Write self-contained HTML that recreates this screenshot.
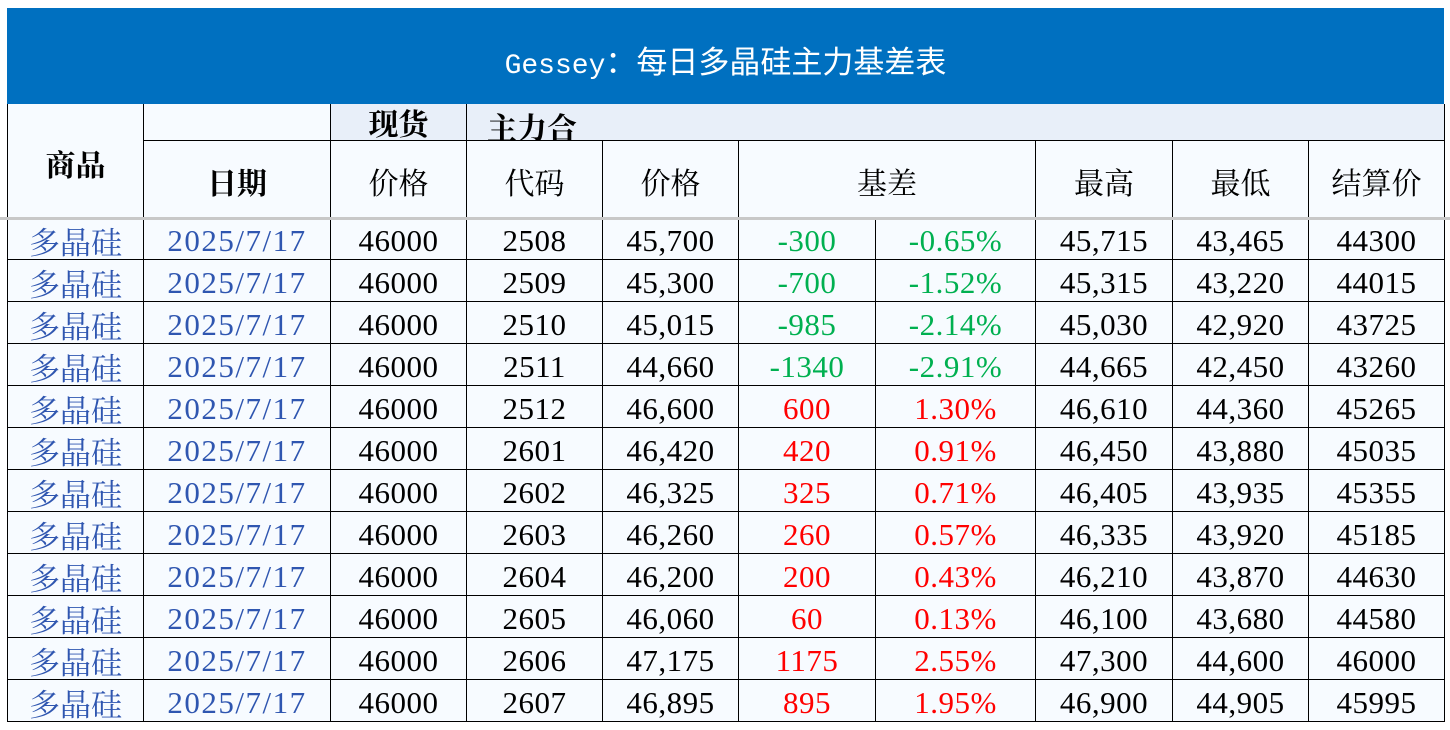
<!DOCTYPE html>
<html><head><meta charset="utf-8">
<style>
html,body{margin:0;padding:0;background:#fff;width:1450px;height:730px;overflow:hidden;position:relative;}
.title{position:absolute;left:7px;top:8px;width:1437px;height:96px;background:#0070C0;color:#fff;
font:28px "Liberation Mono","Noto Sans CJK SC",monospace;line-height:104px;text-align:center;}
.title span{font-size:31px;font-family:"Noto Sans CJK SC",sans-serif;}
.c{position:absolute;box-sizing:border-box;border-right:1px solid #000;border-bottom:1px solid #000;background:#F7FBFF;
text-align:center;overflow:hidden;white-space:nowrap;color:#000;font-family:"Liberation Serif","Noto Serif CJK SC",serif;font-size:31px;}
.hd{font-family:"Noto Serif CJK SC",serif;font-size:30px;}
.b{font-weight:bold;}
.lb{background:#E8EFF9;}
.row{position:absolute;left:0;height:42px;}
.row .c{top:0;height:42px;line-height:45px;letter-spacing:0.5px;}
.bl{color:#2F56B0;}
.dt{letter-spacing:1.5px !important;}
.cj{font-family:"Noto Serif CJK SC",serif;letter-spacing:0 !important;}
.g{color:#00B050;}
.r{color:#FF0000;}
.gray{position:absolute;left:0;top:217px;width:1450px;height:3px;background:#C8C8C8;z-index:5;}
.x0{left:7px;width:137px;border-left:1px solid #000;}
.x1{left:144px;width:187px;}
.x2{left:331px;width:136px;}
.x3{left:467px;width:136px;}
.x4{left:603px;width:136px;}
.x5{left:739px;width:137px;}
.x6{left:876px;width:160px;}
.x7{left:1036px;width:137px;}
.x8{left:1173px;width:136px;}
.x9{left:1309px;width:136px;}
</style></head><body>
<div class="title">Gessey<span>：每日多晶硅主力基差表</span></div>

<div class="c hd b x0" style="top:104px;height:113px;line-height:118px;border-bottom:none">商品</div>
<div class="c x1" style="top:104px;height:37px"></div>
<div class="c hd b lb x2" style="top:104px;height:37px;line-height:36px">现货</div>
<div class="c hd b lb" style="left:467px;width:978px;top:104px;height:37px;line-height:45px;text-align:left;padding-left:20px">主力合</div>
<div class="c hd b x1" style="top:141px;height:76px;line-height:80px;border-bottom:none">日期</div>
<div class="c hd x2" style="top:141px;height:76px;line-height:80px;border-bottom:none">价格</div>
<div class="c hd x3" style="top:141px;height:76px;line-height:80px;border-bottom:none">代码</div>
<div class="c hd x4" style="top:141px;height:76px;line-height:80px;border-bottom:none">价格</div>
<div class="c hd" style="left:739px;width:297px;top:141px;height:76px;line-height:80px;border-bottom:none">基差</div>
<div class="c hd x7" style="top:141px;height:76px;line-height:80px;border-bottom:none">最高</div>
<div class="c hd x8" style="top:141px;height:76px;line-height:80px;border-bottom:none">最低</div>
<div class="c hd x9" style="top:141px;height:76px;line-height:80px;border-bottom:none">结算价</div>
<div class="gray"></div>

<div class="row" style="top:218px"><div class="c bl cj x0">多晶硅</div><div class="c bl dt x1">2025/7/17</div><div class="c x2">46000</div><div class="c x3">2508</div><div class="c x4">45,700</div><div class="c g x5">-300</div><div class="c g x6">-0.65%</div><div class="c x7">45,715</div><div class="c x8">43,465</div><div class="c x9">44300</div></div>
<div class="row" style="top:260px"><div class="c bl cj x0">多晶硅</div><div class="c bl dt x1">2025/7/17</div><div class="c x2">46000</div><div class="c x3">2509</div><div class="c x4">45,300</div><div class="c g x5">-700</div><div class="c g x6">-1.52%</div><div class="c x7">45,315</div><div class="c x8">43,220</div><div class="c x9">44015</div></div>
<div class="row" style="top:302px"><div class="c bl cj x0">多晶硅</div><div class="c bl dt x1">2025/7/17</div><div class="c x2">46000</div><div class="c x3">2510</div><div class="c x4">45,015</div><div class="c g x5">-985</div><div class="c g x6">-2.14%</div><div class="c x7">45,030</div><div class="c x8">42,920</div><div class="c x9">43725</div></div>
<div class="row" style="top:344px"><div class="c bl cj x0">多晶硅</div><div class="c bl dt x1">2025/7/17</div><div class="c x2">46000</div><div class="c x3">2511</div><div class="c x4">44,660</div><div class="c g x5">-1340</div><div class="c g x6">-2.91%</div><div class="c x7">44,665</div><div class="c x8">42,450</div><div class="c x9">43260</div></div>
<div class="row" style="top:386px"><div class="c bl cj x0">多晶硅</div><div class="c bl dt x1">2025/7/17</div><div class="c x2">46000</div><div class="c x3">2512</div><div class="c x4">46,600</div><div class="c r x5">600</div><div class="c r x6">1.30%</div><div class="c x7">46,610</div><div class="c x8">44,360</div><div class="c x9">45265</div></div>
<div class="row" style="top:428px"><div class="c bl cj x0">多晶硅</div><div class="c bl dt x1">2025/7/17</div><div class="c x2">46000</div><div class="c x3">2601</div><div class="c x4">46,420</div><div class="c r x5">420</div><div class="c r x6">0.91%</div><div class="c x7">46,450</div><div class="c x8">43,880</div><div class="c x9">45035</div></div>
<div class="row" style="top:470px"><div class="c bl cj x0">多晶硅</div><div class="c bl dt x1">2025/7/17</div><div class="c x2">46000</div><div class="c x3">2602</div><div class="c x4">46,325</div><div class="c r x5">325</div><div class="c r x6">0.71%</div><div class="c x7">46,405</div><div class="c x8">43,935</div><div class="c x9">45355</div></div>
<div class="row" style="top:512px"><div class="c bl cj x0">多晶硅</div><div class="c bl dt x1">2025/7/17</div><div class="c x2">46000</div><div class="c x3">2603</div><div class="c x4">46,260</div><div class="c r x5">260</div><div class="c r x6">0.57%</div><div class="c x7">46,335</div><div class="c x8">43,920</div><div class="c x9">45185</div></div>
<div class="row" style="top:554px"><div class="c bl cj x0">多晶硅</div><div class="c bl dt x1">2025/7/17</div><div class="c x2">46000</div><div class="c x3">2604</div><div class="c x4">46,200</div><div class="c r x5">200</div><div class="c r x6">0.43%</div><div class="c x7">46,210</div><div class="c x8">43,870</div><div class="c x9">44630</div></div>
<div class="row" style="top:596px"><div class="c bl cj x0">多晶硅</div><div class="c bl dt x1">2025/7/17</div><div class="c x2">46000</div><div class="c x3">2605</div><div class="c x4">46,060</div><div class="c r x5">60</div><div class="c r x6">0.13%</div><div class="c x7">46,100</div><div class="c x8">43,680</div><div class="c x9">44580</div></div>
<div class="row" style="top:638px"><div class="c bl cj x0">多晶硅</div><div class="c bl dt x1">2025/7/17</div><div class="c x2">46000</div><div class="c x3">2606</div><div class="c x4">47,175</div><div class="c r x5">1175</div><div class="c r x6">2.55%</div><div class="c x7">47,300</div><div class="c x8">44,600</div><div class="c x9">46000</div></div>
<div class="row" style="top:680px"><div class="c bl cj x0">多晶硅</div><div class="c bl dt x1">2025/7/17</div><div class="c x2">46000</div><div class="c x3">2607</div><div class="c x4">46,895</div><div class="c r x5">895</div><div class="c r x6">1.95%</div><div class="c x7">46,900</div><div class="c x8">44,905</div><div class="c x9">45995</div></div>
</body></html>
